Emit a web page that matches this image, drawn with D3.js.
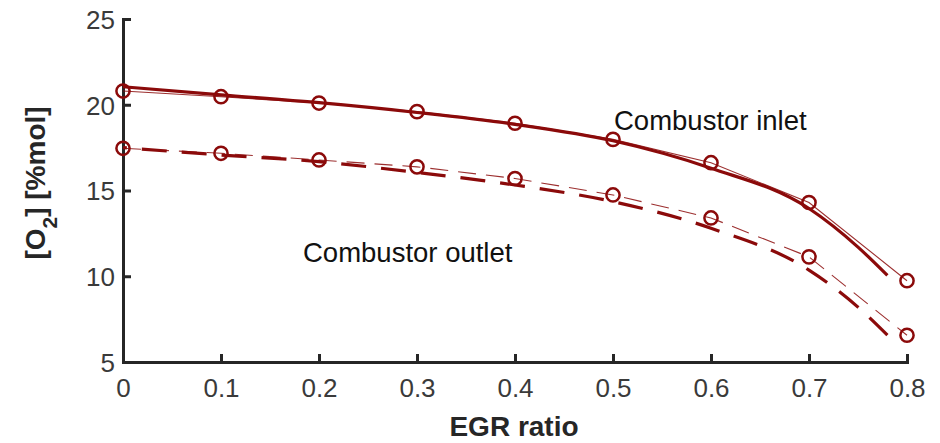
<!DOCTYPE html>
<html>
<head>
<meta charset="utf-8">
<script src="https://cdn.jsdelivr.net/npm/d3@7"></script>
<style>
  body { margin: 0; background: #fff; }
  text { font-family: Arial, "Liberation Sans", Helvetica, sans-serif; }
</style>
</head>
<body>
<div id="chart"></div>
<script>
// EGR ratio at which measurements were taken
var egrMeasured = [0, 0.1, 0.2, 0.3, 0.4, 0.5, 0.6, 0.7, 0.8];
// measured O2 (circles)
var inletMeasured = [20.8, 20.47, 20.1, 19.6, 18.92, 17.98, 16.62, 14.3, 9.74];
var outletMeasured = [17.46, 17.17, 16.78, 16.38, 15.7, 14.74, 13.4, 11.13, 6.56];

// model curves (thick lines)
var egrModel = [0, 0.1, 0.2, 0.3, 0.4, 0.5, 0.6, 0.7, 0.75, 0.78];
var inletModel = [21.05, 20.58, 20.12, 19.55, 18.86, 17.9, 16.3, 13.95, 11.7, 10.05];
var outletModel = [17.5, 17.07, 16.68, 16.05, 15.32, 14.35, 12.8, 10.36, 8.2, 6.57];

var xTicks = [0, 0.1, 0.2, 0.3, 0.4, 0.5, 0.6, 0.7, 0.8];
var yTicks = [5, 10, 15, 20, 25];

var width = 940, height = 443;
var margin = {left: 123, right: 33, top: 19, bottom: 81};
var red = '#8b0a0a';
var axisColor = '#262626';

var svg = d3.select('#chart')
  .append('svg')
  .attr('width', width)
  .attr('height', height);

var x = d3.scaleLinear().domain([0, 0.8]).range([margin.left, width - margin.right]);
var y = d3.scaleLinear().domain([5, 25]).range([height - margin.bottom, margin.top]);

//Axes, ticks pointing inward
var xAxis = svg.append('g')
  .attr('transform', 'translate(0,' + y(5) + ')')
  .call(d3.axisBottom(x).tickValues(xTicks).tickSize(-8).tickPadding(17)
    .tickFormat(function(d) { return d === 0 ? '0' : d3.format('.1f')(d); }));

var yAxis = svg.append('g')
  .attr('transform', 'translate(' + x(0) + ',0)')
  .call(d3.axisLeft(y).tickValues(yTicks).tickSize(-8).tickPadding(8));

[xAxis, yAxis].forEach(function(a) {
  a.select('.domain').attr('stroke', axisColor).attr('stroke-width', 3);
  a.selectAll('.tick line').attr('stroke', axisColor).attr('stroke-width', 3);
  a.selectAll('.tick text')
    .attr('fill', '#3a3a3a')
    .style('font-size', '26px');
});
yAxis.selectAll('.tick text').attr('dy', '0.36em');

//Axis labels
svg.append('text')
  .attr('x', 514)
  .attr('y', 436)
  .attr('text-anchor', 'middle')
  .style('font-size', '28px')
  .style('font-weight', 'bold')
  .attr('fill', '#262626')
  .text('EGR ratio');

var yl = svg.append('text')
  .attr('transform', 'translate(45,183) rotate(-90)')
  .attr('text-anchor', 'middle')
  .style('font-size', '28px')
  .style('font-weight', 'bold')
  .attr('fill', '#262626');
yl.append('tspan').text('[O');
yl.append('tspan').attr('baseline-shift', 'sub').style('font-size', '21px').text('2');
yl.append('tspan').text('] [%mol]');

//Lines
var lineM = d3.line()
  .x(function(d, i) { return x(egrModel[i]); })
  .y(function(d) { return y(d); })
  .curve(d3.curveMonotoneX);

var lineE = d3.line()
  .x(function(d, i) { return x(egrMeasured[i]); })
  .y(function(d) { return y(d); });

// thin measured lines
svg.append('path').attr('d', lineE(inletMeasured))
  .attr('fill', 'none').attr('stroke', red).attr('stroke-opacity', 0.85).attr('stroke-width', 1.1);
svg.append('path').attr('d', lineE(outletMeasured))
  .attr('fill', 'none').attr('stroke', red).attr('stroke-opacity', 0.85).attr('stroke-width', 1.1)
  .attr('stroke-dasharray', '18,10');

// thick model lines
svg.append('path').attr('d', lineM(inletModel))
  .attr('fill', 'none').attr('stroke', red).attr('stroke-width', 3.2);
var outPath = svg.append('path').attr('d', lineM(outletModel))
  .attr('fill', 'none').attr('stroke', red).attr('stroke-width', 3.2)
  .attr('stroke-dasharray', '25,15');

// make the dashed model line finish on a full dash
var L = outPath.node().getTotalLength();
outPath.attr('stroke-dashoffset', ((25 - L % 40) + 40) % 40);

// circles
[inletMeasured, outletMeasured].forEach(function(series) {
  svg.selectAll(null)
    .data(series)
    .enter()
    .append('circle')
    .attr('cx', function(d, i) { return x(egrMeasured[i]); })
    .attr('cy', function(d) { return y(d); })
    .attr('r', 6.6)
    .attr('fill', 'none')
    .attr('stroke', red)
    .attr('stroke-width', 2.5);
});

//Annotations
svg.append('text')
  .attr('x', 614).attr('y', 130)
  .style('font-size', '27.5px')
  .attr('fill', '#111')
  .text('Combustor inlet');

svg.append('text')
  .attr('x', 303).attr('y', 262)
  .style('font-size', '27.5px')
  .attr('fill', '#111')
  .text('Combustor outlet');
</script>
</body>
</html>
